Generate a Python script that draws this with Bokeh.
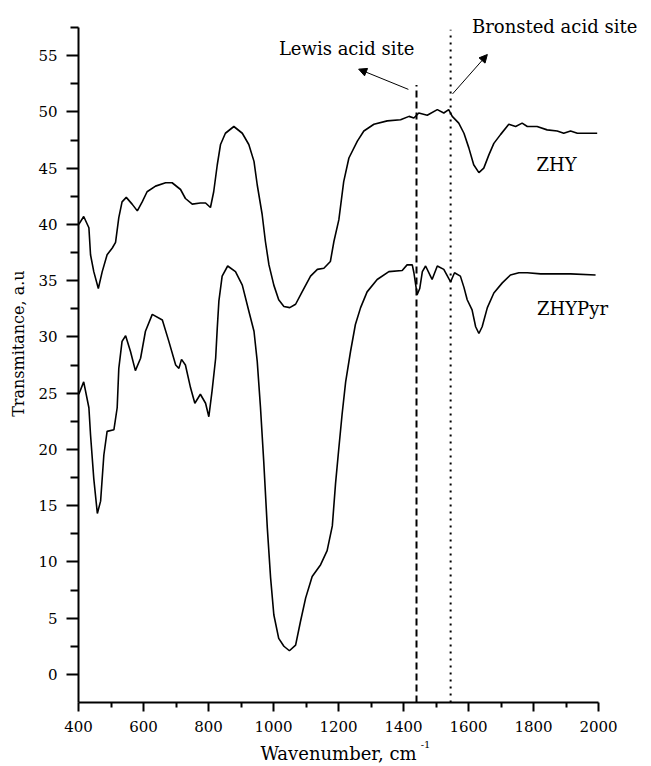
import math
from bokeh.plotting import figure
from bokeh.models import Range1d, FixedTicker, Label, Arrow, NormalHead
from bokeh.embed import file_html
from bokeh.resources import INLINE

# ---- data ----
zhy_x = [401, 416, 432, 437, 447, 461, 473, 488, 504, 514,
         524, 534, 547, 565, 581, 596, 611, 637, 668, 688,
         714, 729, 750, 775, 791, 806, 816, 827, 837, 852,
         878, 904, 924, 940, 950, 965, 975, 986, 1001, 1016,
         1032, 1050, 1068, 1088, 1114, 1135, 1155, 1175, 1186, 1201,
         1216, 1232, 1258, 1278, 1309, 1350, 1391, 1417, 1432, 1447,
         1473, 1504, 1524, 1539, 1550, 1570, 1586, 1601, 1616, 1632,
         1647, 1663, 1678, 1699, 1724, 1745, 1765, 1781, 1811, 1842,
         1873, 1893, 1914, 1935, 1996]
zhy_y = [40.0, 40.7, 39.7, 37.3, 35.8, 34.3, 35.8, 37.3, 37.9, 38.4,
         40.6, 42.0, 42.4, 41.8, 41.2, 42.0, 42.9, 43.4, 43.7, 43.7,
         43.1, 42.3, 41.8, 41.9, 41.9, 41.5, 42.9, 45.3, 47.1, 48.1,
         48.7, 48.1, 47.1, 45.6, 43.5, 40.9, 38.5, 36.4, 34.6, 33.3,
         32.7, 32.6, 32.9, 34.0, 35.4, 36.0, 36.1, 36.7, 38.5, 40.4,
         43.8, 45.9, 47.4, 48.3, 48.9, 49.2, 49.3, 49.6, 49.45, 49.9,
         49.7, 50.2, 49.9, 50.2, 49.6, 49.0, 48.1, 46.8, 45.3, 44.6,
         45.0, 46.2, 47.2, 48.0, 48.9, 48.7, 49.0, 48.7, 48.7, 48.4,
         48.3, 48.1, 48.3, 48.1, 48.1]

pyr_x = [401, 416, 432, 437, 447, 458, 468, 478, 488, 509,
         519, 524, 534, 545, 560, 575, 591, 606, 627, 658,
         678, 699, 709, 717, 729, 745, 758, 775, 791, 801,
         811, 822, 827, 832, 842, 859, 883, 904, 924, 940,
         950, 960, 970, 981, 991, 1001, 1016, 1032, 1049, 1068,
         1083, 1099, 1119, 1145, 1165, 1181, 1191, 1201, 1211, 1222,
         1237, 1252, 1268, 1288, 1319, 1355, 1396, 1411, 1427, 1432,
         1442, 1450, 1458, 1468, 1483, 1488, 1504, 1524, 1539, 1545,
         1557, 1575, 1586, 1596, 1611, 1622, 1632, 1642, 1658, 1678,
         1704, 1729, 1755, 1781, 1822, 1863, 1914, 1991]
pyr_y = [24.9, 26.0, 23.7, 21.3, 17.4, 14.3, 15.4, 19.5, 21.6, 21.75,
         23.7, 27.2, 29.6, 30.1, 28.7, 27.0, 28.1, 30.5, 32.0, 31.5,
         29.6, 27.5, 27.2, 28.0, 27.5, 25.45, 24.1, 24.9, 24.1, 22.9,
         25.2, 28.1, 30.8, 33.2, 35.4, 36.3, 35.8, 34.6, 32.3, 30.5,
         27.8, 23.7, 18.9, 13.0, 8.6, 5.3, 3.2, 2.5, 2.1, 2.6,
         4.7, 6.8, 8.7, 9.75, 11.0, 13.2, 17.0, 20.1, 23.1, 26.0,
         28.7, 31.1, 32.6, 34.0, 35.1, 35.8, 35.9, 36.4, 36.4, 35.7,
         33.75, 34.3, 35.8, 36.3, 35.4, 35.1, 36.3, 36.0, 35.2, 34.9,
         35.7, 35.4, 34.4, 33.3, 32.4, 30.9, 30.3, 30.9, 32.6, 33.9,
         34.8, 35.5, 35.7, 35.7, 35.6, 35.6, 35.6, 35.5]

x_major_ticks = [400, 600, 800, 1000, 1200, 1400, 1600, 1800, 2000]
x_minor_ticks = [500, 700, 900, 1100, 1300, 1500, 1700, 1900]
y_major_ticks = [0, 5, 10, 15, 20, 25, 30, 35, 40, 45, 50, 55]
y_minor_ticks = [2.5, 7.5, 12.5, 17.5, 22.5, 27.5, 32.5, 37.5, 42.5, 47.5, 52.5, 57.5]

x_min, x_max = 400, 2000
y_min, y_max = -2.5, 57.5

lewis_x = 1440
lewis_top = 52.4
bronsted_x = 1545
bronsted_top = 57.3

SERIF = "DejaVu Serif"

# the frame fills the canvas, axes sit at fixed data locations
W, H = 648, 766
ax_left_px, ax_bottom_px = 78, 702
x_scale, y_scale = 0.325, 11.25  # px per data unit
xr = Range1d(x_min - ax_left_px / x_scale, x_min + (W - ax_left_px) / x_scale)
yr = Range1d(y_min - (H - ax_bottom_px) / y_scale, y_min + ax_bottom_px / y_scale)

p = figure(width=W, height=H, output_backend="svg", toolbar_location=None,
           x_range=xr, y_range=yr)
p.title.visible = False
p.min_border = 0
p.min_border_left = 0
p.min_border_right = 0
p.min_border_top = 0
p.min_border_bottom = 0
p.outline_line_color = None
p.xgrid.visible = False
p.ygrid.visible = False
p.background_fill_color = "white"
p.border_fill_color = "white"

p.xaxis.ticker = FixedTicker(ticks=x_major_ticks, minor_ticks=x_minor_ticks)
p.yaxis.ticker = FixedTicker(ticks=y_major_ticks, minor_ticks=y_minor_ticks)
p.xaxis.bounds = (x_min, x_max)
p.yaxis.bounds = (y_min, y_max)
p.xaxis.fixed_location = y_min
p.yaxis.fixed_location = x_min
for ax in (p.xaxis, p.yaxis):
    ax.axis_line_width = 2
    ax.axis_line_color = "black"
    ax.major_tick_line_width = 2
    ax.minor_tick_line_width = 2
    ax.major_tick_line_color = "black"
    ax.minor_tick_line_color = "black"
    ax.major_tick_in = 0
    ax.minor_tick_in = 0
    ax.major_label_text_font = SERIF
    ax.major_label_text_font_size = "15px"
    ax.major_label_text_color = "black"
p.xaxis.major_tick_out = 9
p.xaxis.minor_tick_out = 5
p.yaxis.major_tick_out = 12
p.yaxis.minor_tick_out = 8
p.xaxis.major_label_standoff = 9
p.yaxis.major_label_standoff = 9

# reference lines
p.segment(x0=[lewis_x], y0=[y_min], x1=[lewis_x], y1=[lewis_top],
          line_color="black", line_width=2, line_dash="7 4")
p.segment(x0=[bronsted_x], y0=[y_min], x1=[bronsted_x], y1=[bronsted_top],
          line_color="black", line_width=2, line_dash="2 5")

# spectra
p.line(zhy_x, zhy_y, line_color="black", line_width=1.6)
p.line(pyr_x, pyr_y, line_color="black", line_width=1.6)

# arrows
p.add_layout(Arrow(end=NormalHead(size=8, fill_color="black", line_color="black"),
                   x_start=1415, y_start=52.0, x_end=1262, y_end=53.8,
                   line_width=1, line_color="black"))
p.add_layout(Arrow(end=NormalHead(size=8, fill_color="black", line_color="black"),
                   x_start=1551, y_start=51.6, x_end=1658, y_end=55.1,
                   line_width=1, line_color="black"))

def lab(x, y, text, size, angle=0.0, align="center"):
    p.add_layout(Label(x=x, y=y, text=text, text_font=SERIF,
                       text_font_size=size, text_align=align,
                       text_baseline="middle", angle=angle, text_color="black"))

lab(1225, 55.6, "Lewis acid site", "18px")
lab(1865, 57.6, "Bronsted acid site", "18px")
lab(1871, 45.3, "ZHY", "18px")
lab(1920, 32.5, "ZHYPyr", "18px")
lab(1200, -7.0, "Wavenumber, cm", "18px")
lab(1468, -6.2, "-1", "10px")
lab(215, 29.4, "Transmitance, a.u", "16px", angle=math.pi / 2)

open("out.html", "w").write(file_html(p, INLINE))
